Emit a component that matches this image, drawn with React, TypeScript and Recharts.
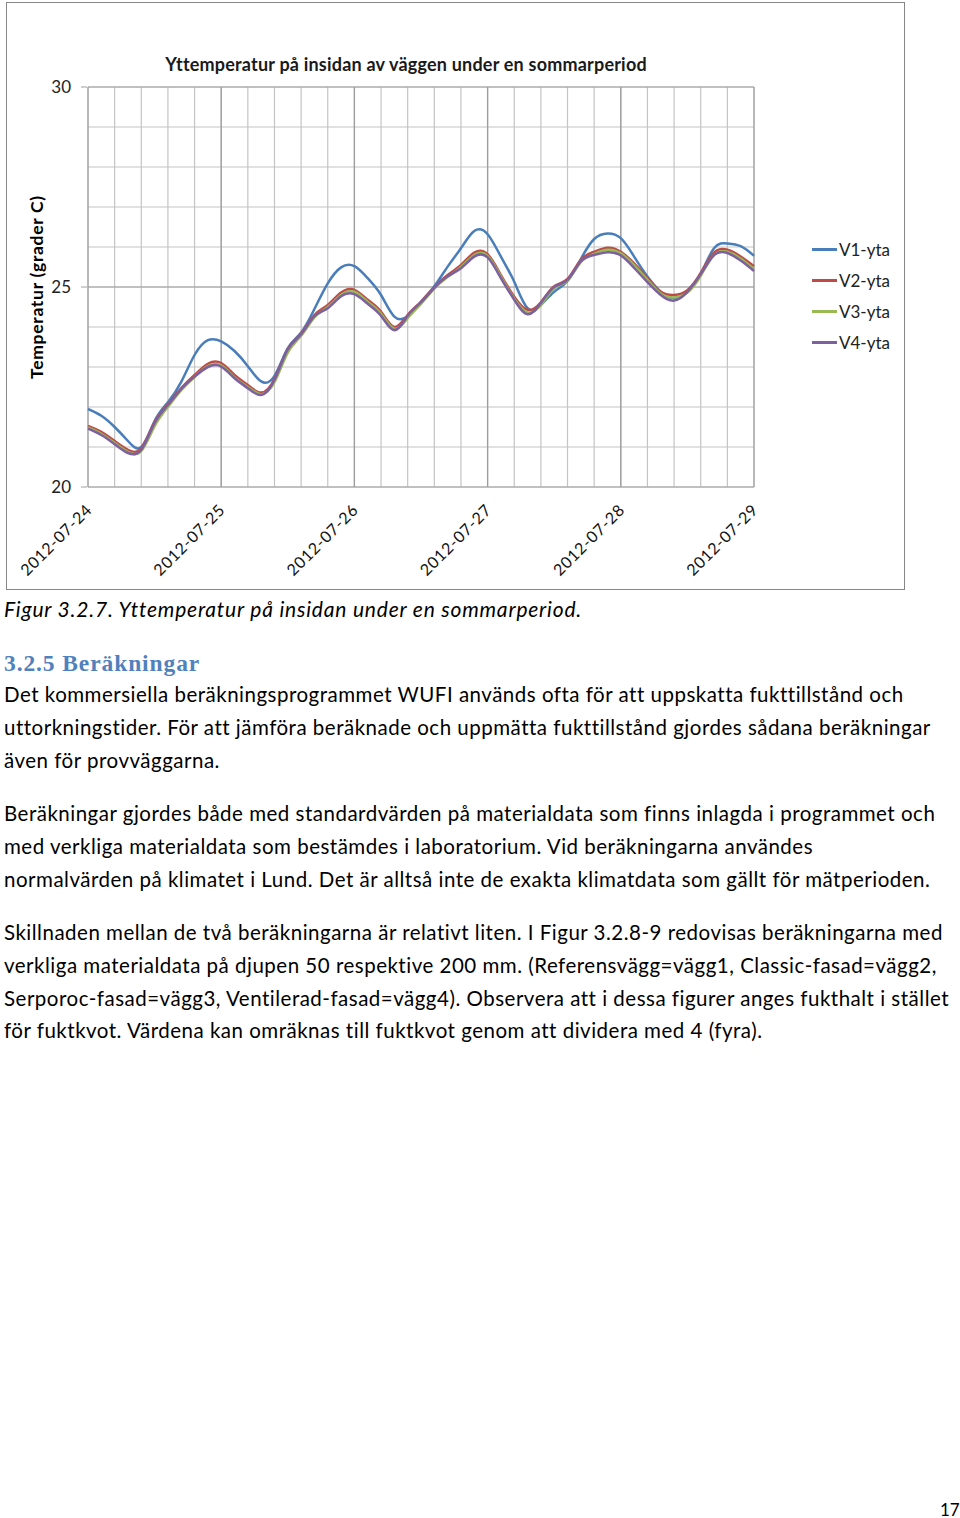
import React from "react";
import { LineChart, Line, XAxis, YAxis, CartesianGrid, ReferenceLine } from "recharts";

// time in days since 2012-07-24 00:00
const T = [
  0, 0.1, 0.2, 0.3, 0.4, 0.5, 0.6, 0.7, 0.8, 0.9,
  1, 1.1, 1.2, 1.3, 1.4, 1.5, 1.6, 1.7, 1.8, 1.9,
  2, 2.1, 2.2, 2.3, 2.4, 2.5, 2.6, 2.7, 2.8, 2.9,
  3, 3.1, 3.2, 3.3, 3.4, 3.5, 3.6, 3.7, 3.8, 3.9,
  4, 4.1, 4.2, 4.3, 4.4, 4.5, 4.6, 4.7, 4.8, 4.9,
  5,
];

const V1 = [
  21.95, 21.78, 21.5, 21.15, 21.0, 21.65, 22.12, 22.63, 23.3, 23.67,
  23.64, 23.4, 23.02, 22.64, 22.78, 23.47, 23.86, 24.45, 25.09, 25.49,
  25.52, 25.22, 24.8, 24.26, 24.27, 24.63, 25.02, 25.51, 25.97, 26.4,
  26.32, 25.76, 25.13, 24.47, 24.55, 24.88, 25.15, 25.7, 26.2, 26.34,
  26.22, 25.76, 25.26, 24.88, 24.72, 24.9, 25.33, 25.97, 26.09, 26.02,
  25.78,
];

const V2 = [
  21.53, 21.38, 21.15, 20.93, 20.97, 21.62, 22.07, 22.47, 22.8, 23.08,
  23.1, 22.8, 22.55, 22.36, 22.7, 23.45, 23.83, 24.3, 24.55, 24.86,
  24.93, 24.68, 24.38, 24.0, 24.3, 24.63, 25.0, 25.3, 25.55, 25.86,
  25.82, 25.3, 24.76, 24.43, 24.62, 25.02, 25.2, 25.68, 25.88, 25.98,
  25.88, 25.59, 25.22, 24.88, 24.8, 24.92, 25.35, 25.86, 25.93, 25.76,
  25.52,
];

const V3 = [
  21.49, 21.33, 21.1, 20.88, 20.9, 21.52, 22.0, 22.42, 22.75, 23.02,
  23.04, 22.74, 22.5, 22.32, 22.62, 23.36, 23.78, 24.24, 24.5, 24.8,
  24.88, 24.63, 24.33, 23.96, 24.22, 24.58, 24.96, 25.25, 25.5, 25.8,
  25.78, 25.26, 24.71, 24.37, 24.55, 24.97, 25.16, 25.62, 25.83, 25.93,
  25.84, 25.55, 25.18, 24.84, 24.74, 24.86, 25.28, 25.8, 25.88, 25.71,
  25.45,
];

const V4 = [
  21.46, 21.3, 21.07, 20.85, 20.93, 21.6, 22.05, 22.45, 22.76, 23.0,
  23.01, 22.72, 22.47, 22.3, 22.68, 23.44, 23.82, 24.27, 24.47, 24.77,
  24.82, 24.58, 24.28, 23.92, 24.28, 24.62, 24.98, 25.27, 25.47, 25.76,
  25.74, 25.22, 24.68, 24.32, 24.6, 25.0, 25.18, 25.64, 25.8, 25.87,
  25.79, 25.48, 25.12, 24.8, 24.66, 24.88, 25.32, 25.8, 25.85, 25.66,
  25.4,
];

const DATES = ["2012-07-24", "2012-07-25", "2012-07-26", "2012-07-27", "2012-07-28", "2012-07-29"];
const X_TICKS = [0, 0.2, 0.4, 0.6, 0.8, 1, 1.2, 1.4, 1.6, 1.8, 2, 2.2, 2.4, 2.6, 2.8, 3, 3.2, 3.4, 3.6, 3.8, 4, 4.2, 4.4, 4.6, 4.8, 5];
const Y_TICKS = [20, 21, 22, 23, 24, 25, 26, 27, 28, 29, 30];
const Y_LABELS = [20, 25, 30];

const SERIES = [
  { key: "v1", name: "V1-yta", color: "#4a7ebb", values: V1 },
  { key: "v2", name: "V2-yta", color: "#be4b48", values: V2 },
  { key: "v3", name: "V3-yta", color: "#98b954", values: V3 },
  { key: "v4", name: "V4-yta", color: "#7d60a0", values: V4 },
];

const data = T.map((t, i) => ({ t, v1: V1[i], v2: V2[i], v3: V3[i], v4: V4[i] }));

const FONT = "Lato, 'Open Sans', sans-serif";

function XTick({ x, y, payload }: any) {
  const v = payload.value;
  const idx = Math.round(v);
  if (Math.abs(v - idx) > 1e-6) return null;
  const tx = x + 5;
  const ty = y + 16;
  return (
    <text
      x={tx}
      y={ty}
      transform={`rotate(-45 ${tx} ${ty})`}
      textAnchor="end"
      fontSize={16}
      letterSpacing={0.7}
      fill="#111"
      fontFamily={FONT}
    >
      {DATES[idx]}
    </text>
  );
}

function YTick({ x, y, payload }: any) {
  if (!Y_LABELS.includes(payload.value)) return null;
  return (
    <g>
      <line x1={x + 1} x2={x + 7} y1={y} y2={y} stroke="#a0a0a0" />
      <text x={x - 9} y={y} dy={6} textAnchor="end" fontSize={17} fill="#222" fontFamily={FONT}>
        {payload.value}
      </text>
    </g>
  );
}

const lineStyle = (top: number): React.CSSProperties => ({
  position: "absolute",
  left: 4,
  top: top - 14,
  height: 28,
  lineHeight: "28px",
  whiteSpace: "nowrap",
  fontFamily: FONT,
  fontSize: 20.5,
  letterSpacing: 0.5,
  color: "#000",
});

export default function App() {
  return (
    <div style={{ position: "absolute", left: 0, top: 0, width: 960, height: 1518, background: "#fff" }}>
      <div
        style={{
          position: "absolute",
          left: 6,
          top: 2,
          width: 899,
          height: 588,
          border: "1px solid #878787",
          boxSizing: "border-box",
        }}
      >
        <LineChart width={897} height={586} data={data} margin={{ top: 84, right: 150, bottom: 12, left: 21 }}>
          <CartesianGrid stroke="#c4c4c4" strokeWidth={1.2} />
          <XAxis
            dataKey="t"
            type="number"
            domain={[0, 5]}
            ticks={X_TICKS}
            interval={0}
            height={90}
            axisLine={false}
            tickLine={false}
            tick={<XTick />}
          />
          <YAxis
            type="number"
            domain={[20, 30]}
            ticks={Y_TICKS}
            interval={0}
            width={60}
            axisLine={false}
            tickLine={false}
            tick={<YTick />}
          />
          {[1, 2, 3, 4].map((d) => (
            <ReferenceLine key={d} x={d} stroke="#9c9c9c" strokeWidth={1.3} />
          ))}
          <ReferenceLine y={25} stroke="#a0a0a0" strokeWidth={1.2} />
          <ReferenceLine y={30} stroke="#a0a0a0" strokeWidth={1.2} />
          <ReferenceLine y={20} stroke="#a0a0a0" strokeWidth={1.2} />
          <ReferenceLine x={0} stroke="#a0a0a0" strokeWidth={1.2} />
          <ReferenceLine x={5} stroke="#a0a0a0" strokeWidth={1.2} />
          {SERIES.map((s) => (
            <Line
              key={s.key}
              type="natural"
              dataKey={s.key}
              name={s.name}
              stroke={s.color}
              strokeWidth={2.5}
              dot={false}
              isAnimationActive={false}
            />
          ))}
        </LineChart>
      </div>

      <div
        style={{
          position: "absolute",
          left: 406,
          top: 64,
          transform: "translate(-50%, -50%)",
          whiteSpace: "nowrap",
          fontFamily: FONT,
          fontWeight: 700,
          fontSize: 18,
          letterSpacing: 0.2,
          color: "#1a1a1a",
        }}
      >
        Yttemperatur på insidan av väggen under en sommarperiod
      </div>

      <div
        style={{
          position: "absolute",
          left: 36,
          top: 287,
          transform: "translate(-50%, -50%) rotate(-90deg)",
          whiteSpace: "nowrap",
          fontFamily: FONT,
          fontWeight: 700,
          fontSize: 17.5,
          letterSpacing: 0.7,
          color: "#000",
        }}
      >
        Temperatur (grader C)
      </div>

      {SERIES.map((s, i) => (
        <div
          key={s.key}
          style={{ position: "absolute", left: 812, top: 249 + i * 31 - 12, height: 24, display: "flex", alignItems: "center" }}
        >
          <div style={{ width: 25, height: 3, background: s.color }} />
          <span style={{ marginLeft: 2, fontFamily: FONT, fontSize: 17, color: "#222" }}>{s.name}</span>
        </div>
      ))}

      <div style={{ ...lineStyle(609), fontStyle: "italic", fontSize: 21, letterSpacing: 0.8 }}>
        Figur 3.2.7. Yttemperatur på insidan under en sommarperiod.
      </div>
      <div
        style={{
          ...lineStyle(663),
          fontFamily: "'Liberation Serif', serif",
          fontWeight: 700,
          fontSize: 23.5,
          letterSpacing: 0.9,
          color: "#4f81bd",
        }}
      >
        3.2.5 Beräkningar
      </div>
      <div style={lineStyle(694)}>Det kommersiella beräkningsprogrammet WUFI används ofta för att uppskatta fukttillstånd och</div>
      <div style={lineStyle(727)}>uttorkningstider. För att jämföra beräknade och uppmätta fukttillstånd gjordes sådana beräkningar</div>
      <div style={lineStyle(760)}>även för provväggarna.</div>

      <div style={lineStyle(813)}>Beräkningar gjordes både med standardvärden på materialdata som finns inlagda i programmet och</div>
      <div style={lineStyle(846)}>med verkliga materialdata som bestämdes i laboratorium. Vid beräkningarna användes</div>
      <div style={lineStyle(879)}>normalvärden på klimatet i Lund. Det är alltså inte de exakta klimatdata som gällt för mätperioden.</div>

      <div style={lineStyle(932)}>Skillnaden mellan de två beräkningarna är relativt liten. I Figur 3.2.8-9 redovisas beräkningarna med</div>
      <div style={lineStyle(965)}>verkliga materialdata på djupen 50 respektive 200 mm. (Referensvägg=vägg1, Classic-fasad=vägg2,</div>
      <div style={lineStyle(998)}>Serporoc-fasad=vägg3, Ventilerad-fasad=vägg4). Observera att i dessa figurer anges fukthalt i stället</div>
      <div style={lineStyle(1030)}>för fuktkvot. Värdena kan omräknas till fuktkvot genom att dividera med 4 (fyra).</div>

      <div style={{ ...lineStyle(1510), left: 940, fontSize: 17, letterSpacing: 0 }}>17</div>
    </div>
  );
}
